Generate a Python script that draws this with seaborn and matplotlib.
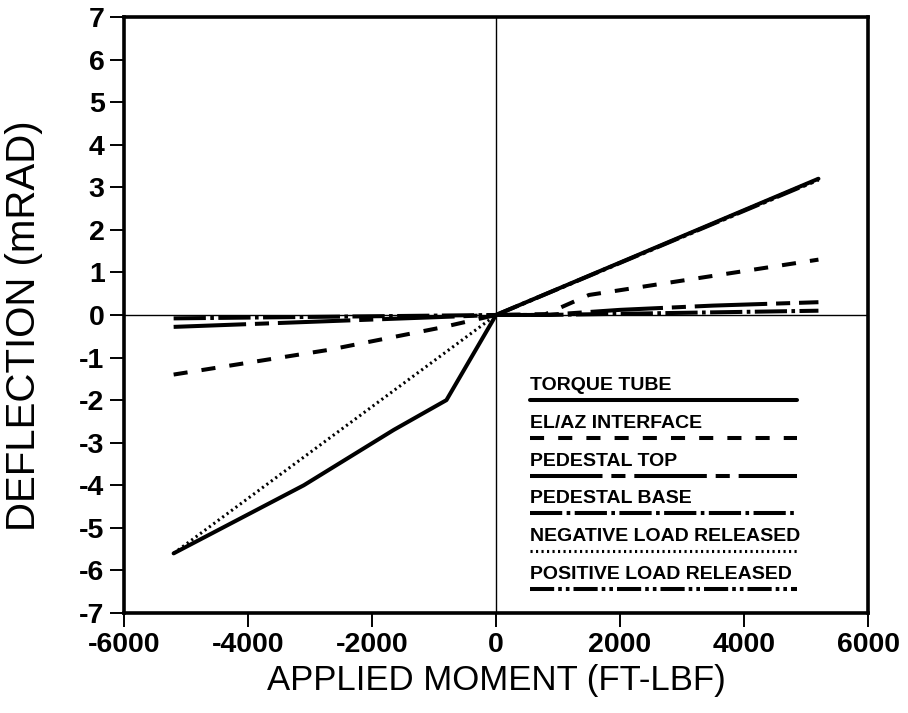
import matplotlib
matplotlib.use("Agg")
import matplotlib.pyplot as plt
import seaborn as sns
import pandas as pd
from matplotlib.lines import Line2D

# ---- data ----
torque_x = [-5200, -3100, -1650, -800, 0, 5200]
torque_y = [-5.6, -4.0, -2.7, -2.0, 0.0, 3.2]

elaz_x = [-5200, -2700, -900, 0, 800, 1500, 5200]
elaz_y = [-1.4, -0.82, -0.3, 0.0, 0.02, 0.47, 1.3]

ptop_x = [-5200, 0, 800, 2000, 3500, 5200]
ptop_y = [-0.28, 0.0, 0.0, 0.12, 0.22, 0.3]

pbase_x = [-5200, 0, 800, 5200]
pbase_y = [-0.08, 0.0, 0.0, 0.1]

negrel_x = [-5200, 0, 5200]
negrel_y = [-5.6, 0.0, 3.2]

posrel_x = [0, 5200]
posrel_y = [0.0, 3.18]

labels = ["TORQUE TUBE", "EL/AZ INTERFACE", "PEDESTAL TOP", "PEDESTAL BASE",
          "NEGATIVE LOAD RELEASED", "POSITIVE LOAD RELEASED"]

x_ticks = [-6000, -4000, -2000, 0, 2000, 4000, 6000]
y_ticks = list(range(-7, 8))

# ---- styling ----
sns.set_theme(style="white")
plt.rcParams['font.family'] = ['Liberation Sans', 'DejaVu Sans']
plt.rcParams['text.color'] = 'black'
plt.rcParams['axes.labelcolor'] = 'black'
plt.rcParams['xtick.color'] = 'black'
plt.rcParams['ytick.color'] = 'black'

styles = [
    dict(lw=2.9, ls='-'),
    dict(lw=2.9, ls=(0, (3.5, 3.5))),
    dict(lw=2.9, ls=(0, (18, 2.2, 3.5, 2.2))),
    dict(lw=2.9, ls=(0, (8, 1.1, 0.9, 1.1))),
    dict(lw=2.2, ls=(0, (0.7, 1.1))),
    dict(lw=2.9, ls=(0, (6, 1, 0.9, 1, 0.9, 1))),
]

series = [(torque_x, torque_y), (elaz_x, elaz_y), (ptop_x, ptop_y),
          (pbase_x, pbase_y), (negrel_x, negrel_y), (posrel_x, posrel_y)]

fig = plt.figure(figsize=(9.08, 7.13), dpi=100)
ax = fig.add_axes([0.1366, 0.1403, 0.8194, 0.8359])

ax.axhline(0, color='black', lw=1.0, zorder=1)
ax.axvline(0, color='black', lw=1.0, zorder=1)

for (xs, ys), st in zip(series, styles):
    df = pd.DataFrame({"x": xs, "y": ys})
    sns.lineplot(data=df, x="x", y="y", ax=ax, color='black', sort=False,
                 estimator=None, linewidth=st['lw'], linestyle=st['ls'])

ax.set_xlim(-6000, 6000)
ax.set_ylim(-7, 7)
ax.set_xticks(x_ticks)
ax.set_yticks(y_ticks)
ax.set_xticklabels([str(v) for v in x_ticks], fontsize=20.5, fontweight='bold')
ax.set_yticklabels([str(v) for v in y_ticks], fontsize=20.5, fontweight='bold')
ax.tick_params(axis='both', direction='out', length=10, width=1.4, color='black',
               bottom=True, left=True, pad=4, labelcolor='black')

for sp in ax.spines.values():
    sp.set_linewidth(2.6)
    sp.set_color('black')

ax.set_xlabel("APPLIED MOMENT (FT-LBF)", fontsize=25, labelpad=4, color='black')
ax.set_ylabel("DEFLECTION (mRAD)", fontsize=29, color='black')
ax.yaxis.set_label_coords(-0.109, 0.4815)

# ---- custom legend: text over line sample ----
x0, x1 = 0.546, 0.905
line_y0 = 0.357
step = 0.0633
for i, (lab, st) in enumerate(zip(labels, styles)):
    ly = line_y0 - i * step
    ax.text(x0, ly + 0.010, lab, transform=ax.transAxes, fontsize=14,
            fontweight='bold', ha='left', va='bottom', color='black')
    ax.add_line(Line2D([x0, x1], [ly, ly], transform=ax.transAxes,
                       color='black', lw=st['lw'], linestyle=st['ls']))

fig.savefig("out.png", dpi=100)
